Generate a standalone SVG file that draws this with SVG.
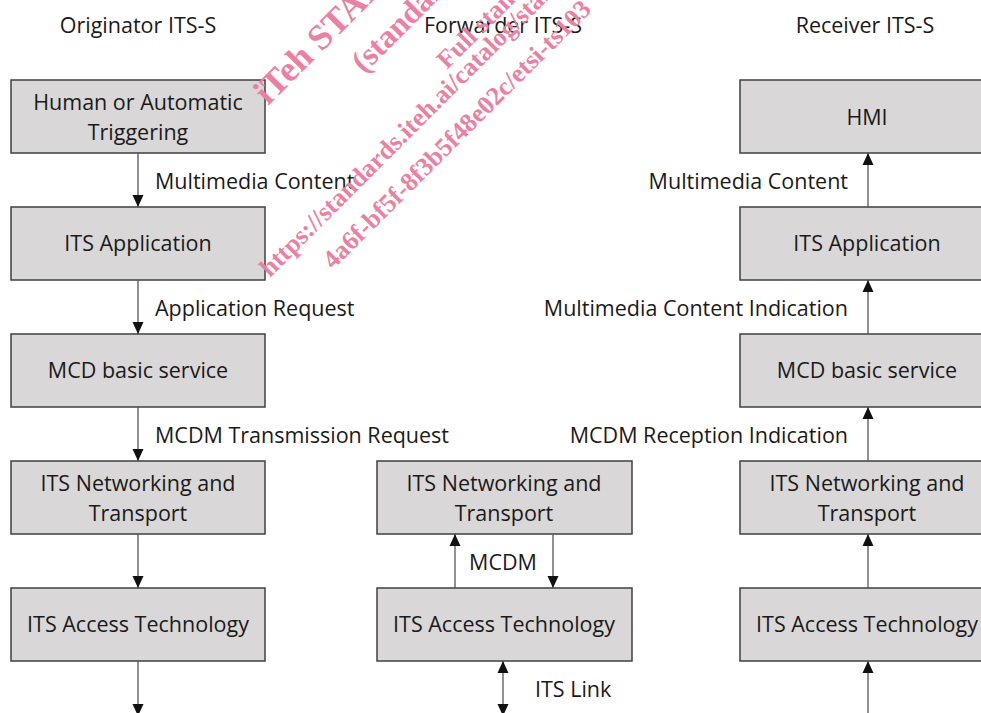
<svg xmlns="http://www.w3.org/2000/svg" width="981" height="713" viewBox="0 0 981 713">
<defs>
<style>
.box{fill:#d9d7d7;stroke:#404040;stroke-width:1.5}
.t{font-family:"Open Sans","Liberation Sans",sans-serif;font-size:21.5px;fill:#1a1a1a}
.c{text-anchor:middle}
.e{text-anchor:end}
.ln{stroke:#555;stroke-width:1.3;fill:none;marker-end:url(#ah)}
.wm{font-family:"Liberation Serif",serif;font-weight:bold;fill:#ec80a2}
</style>
<marker id="ah" viewBox="0 0 12 12" refX="12" refY="6" markerWidth="12" markerHeight="12" markerUnits="userSpaceOnUse" orient="auto-start-reverse">
<path d="M0,0.5 L12,6 L0,11.5 Z" fill="#111"/>
</marker>
</defs>
<rect width="981" height="713" fill="#fff"/>

<g id="titles" class="t c">
<text x="138" y="33">Originator ITS-S</text>
<text x="503" y="33">Forwarder ITS-S</text>
<text x="865" y="33">Receiver ITS-S</text>
</g>

<g id="o-trigger"><rect class="box" x="11" y="80" width="254" height="73"/><text class="t c" x="138" y="110">Human or Automatic</text><text class="t c" x="138" y="140">Triggering</text></g>
<g id="o-app"><rect class="box" x="11" y="207" width="254" height="73"/><text class="t c" x="138" y="251">ITS Application</text></g>
<g id="o-mcd"><rect class="box" x="11" y="334" width="254" height="73"/><text class="t c" x="138" y="378">MCD basic service</text></g>
<g id="o-net"><rect class="box" x="11" y="461" width="254" height="73"/><text class="t c" x="138" y="491">ITS Networking and</text><text class="t c" x="138" y="521">Transport</text></g>
<g id="o-acc"><rect class="box" x="11" y="588" width="254" height="73"/><text class="t c" x="138" y="632">ITS Access Technology</text></g>

<g id="f-net"><rect class="box" x="377" y="461" width="255" height="73"/><text class="t c" x="504" y="491">ITS Networking and</text><text class="t c" x="504" y="521">Transport</text></g>
<g id="f-acc"><rect class="box" x="377" y="588" width="255" height="73"/><text class="t c" x="504" y="632">ITS Access Technology</text></g>

<g id="r-hmi"><rect class="box" x="740" y="80" width="254" height="73"/><text class="t c" x="867" y="125">HMI</text></g>
<g id="r-app"><rect class="box" x="740" y="207" width="254" height="73"/><text class="t c" x="867" y="251">ITS Application</text></g>
<g id="r-mcd"><rect class="box" x="740" y="334" width="254" height="73"/><text class="t c" x="867" y="378">MCD basic service</text></g>
<g id="r-net"><rect class="box" x="740" y="461" width="254" height="73"/><text class="t c" x="867" y="491">ITS Networking and</text><text class="t c" x="867" y="521">Transport</text></g>
<g id="r-acc"><rect class="box" x="740" y="588" width="254" height="73"/><text class="t c" x="867" y="632">ITS Access Technology</text></g>

<g id="connectors">
<path class="ln" d="M138,153V207"/>
<path class="ln" d="M138,280V334"/>
<path class="ln" d="M138,407V461"/>
<path class="ln" d="M138,534V588"/>
<path class="ln" d="M138,661V716"/>
<path class="ln" d="M455,588V534"/>
<path class="ln" d="M553,534V588"/>
<path class="ln" d="M503,661V716" style="marker-start:url(#ah)"/>
<path class="ln" d="M868,207V153"/>
<path class="ln" d="M868,334V280"/>
<path class="ln" d="M868,461V407"/>
<path class="ln" d="M868,588V534"/>
<path class="ln" d="M868,716V661"/>
</g>

<g id="labels" class="t">
<text x="155" y="189">Multimedia Content</text>
<text x="155" y="316">Application Request</text>
<text x="155" y="443">MCDM Transmission Request</text>
<text class="c" x="503" y="570">MCDM</text>
<text x="535" y="697">ITS Link</text>
<text class="e" x="848" y="189">Multimedia Content</text>
<text class="e" x="848" y="316">Multimedia Content Indication</text>
<text class="e" x="848" y="443">MCDM Reception Indication</text>
</g>

<g id="watermark" class="wm">
<text font-size="36" transform="translate(268,106) rotate(-45)">iTeh STANDARD PREVIEW</text>
<text font-size="32" transform="translate(364,74) rotate(-45)">(standards.iteh.ai)</text>
<text font-size="26" transform="translate(447,70) rotate(-45)">Full standard:</text>
<text font-size="26" transform="translate(270,278) rotate(-45)">https://standards.iteh.ai/catalog/standards</text>
<text font-size="26" transform="translate(333,270) rotate(-45)">4a6f-bf5f-8f3b5f48e02c/etsi-ts103</text>
</g>
</svg>
